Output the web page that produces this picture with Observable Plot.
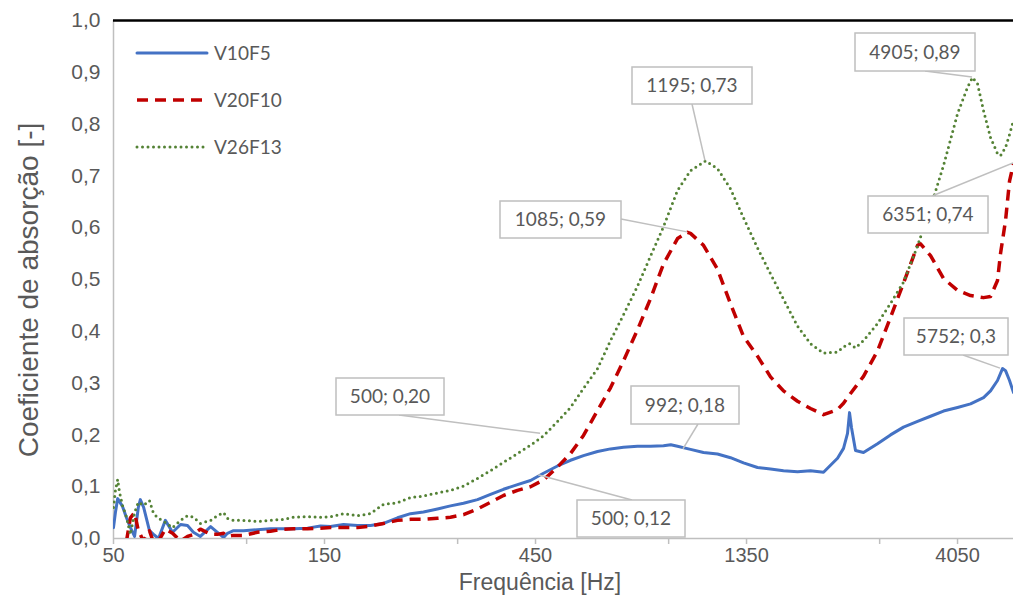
<!DOCTYPE html>
<html><head><meta charset="utf-8">
<script src="https://cdn.jsdelivr.net/npm/d3@7"></script>
<script src="https://cdn.jsdelivr.net/npm/@observablehq/plot@0.6"></script>
<style>
body{margin:0;background:#fff;}
#chart{position:relative;width:1013px;height:598px;overflow:hidden;}
</style></head><body><div id="chart"></div>
<script>
// ---- data (frequency in Hz, absorption coefficient) ----
const freqV10F5 = [50,50.5,51.1,52.4,53.5,54.6,55.8,56.9,57.5,58.5,60.3,61.6,63.2,65.5,68.0,70.9,73.5,75.8,78.6,82.9,85.9,88.7,90.5,93.4,98.4,105.8,113.2,121.2,127.6,137.3,146.9,
  154.8,165.6,178.1,190.6,203.9,219.4,234.7,251.1,270.1,289.0,309.3,332.7,356.0,380.9,409.7,438.4,469.1,504.6,539.9,577.7,621.5,664.9,711.4,765.3,818.8,876.2,910,942.5,1008.5,1079.1,1160.7,1242,1329,1429.5,1529.6,1636.7,1760.5,1883.8,2015.7,2168.2,2237,2284,2308,2332,2381,2482,2670,2857,3057,3289,3519,3765,4050,4334,4637,4809,4987,5119,5200,5309,5420];
const alphaV10F5 = [0.021,0.05,0.077,0.062,0.040,0.021,0.004,0.060,0.075,0.060,0.015,0.008,0.0,0.035,0.012,0.027,0.025,0.012,0.004,0.023,0.012,0.002,0.010,0.015,0.015,0.017,0.019,0.019,0.019,0.020,0.024,
  0.023,0.027,0.025,0.025,0.029,0.040,0.048,0.051,0.057,0.063,0.068,0.075,0.085,0.095,0.104,0.112,0.126,0.140,0.151,0.160,0.168,0.173,0.176,0.178,0.178,0.179,0.181,0.178,0.172,0.166,0.163,0.156,0.146,0.137,0.134,0.131,0.129,0.131,0.128,0.155,0.174,0.203,0.243,0.214,0.170,0.166,0.183,0.200,0.215,0.226,0.236,0.246,0.253,0.260,0.272,0.285,0.305,0.328,0.324,0.305,0.282];

const freqV20F10 = [50,53.5,54.6,55.8,56.9,58.5,60.3,61.6,63.2,65.5,68.0,70.9,73.5,75.8,78.6,82.9,85.9,88.7,90.5,93.4,98.4,105.8,113.2,121.2,127.6,137.3,146.9,
  154.8,165.6,178.1,190.6,203.9,219.4,234.7,251.1,270.1,289.0,309.3,332.7,356.0,380.9,409.7,438.4,469.1,504.6,539.9,577.7,621.5,664.9,711.4,765.3,818.8,876.2,942.5,993,1008.5,1079.1,1160.7,1242,1329,1429.5,1529.6,1636.7,1760.5,1883.8,2015.7,2168.2,2237,2320,2482,2670,2857,3057,3289,3340,3519,3765,4050,4334,4637,4809,4987,5066,5200,5309,5420];
const alphaV20F10 = [-0.03,-0.005,0.040,0.050,0.015,-0.005,0.015,-0.008,-0.005,0.018,0.010,-0.005,0.004,0.008,0.018,0.008,0.008,0.010,0.004,0.006,0.006,0.012,0.014,0.018,0.019,0.019,0.020,
  0.021,0.021,0.021,0.024,0.029,0.035,0.037,0.037,0.039,0.041,0.046,0.057,0.070,0.083,0.093,0.100,0.113,0.138,0.164,0.199,0.247,0.291,0.343,0.403,0.463,0.530,0.579,0.591,0.589,0.566,0.520,0.453,0.390,0.352,0.312,0.285,0.265,0.251,0.239,0.249,0.261,0.280,0.313,0.362,0.427,0.493,0.566,0.569,0.546,0.502,0.479,0.469,0.465,0.467,0.498,0.550,0.614,0.690,0.724];

const freqV26F13 = [50,50.5,51.1,51.6,52.4,53.5,54.6,55.8,56.9,58.5,60.3,61.6,63.2,65.5,68.0,70.9,73.5,75.8,78.6,82.9,85.9,88.7,90.5,93.4,98.4,105.8,113.2,121.2,127.6,137.3,146.9,
  154.8,165.6,178.1,190.6,203.9,219.4,234.7,251.1,270.1,289.0,309.3,332.7,356.0,380.9,409.7,438.4,469.1,504.6,539.9,577.7,621.5,664.9,711.4,765.3,818.8,876.2,942.5,1008.5,1090,1160.7,1242,1329,1429.5,1529.6,1636.7,1760.5,1883.8,2015.7,2168.2,2237,2308,2381,2482,2670,2857,3057,3289,3519,3765,4050,4266,4379,4494,4637,4809,4987,5066,5200,5309,5420];
const alphaV26F13 = [0.060,0.093,0.114,0.089,0.064,0.041,0.008,0.050,0.070,0.064,0.073,0.048,0.039,0.031,0.021,0.035,0.044,0.041,0.029,0.035,0.044,0.050,0.039,0.035,0.035,0.033,0.035,0.037,0.041,0.042,0.041,
  0.042,0.048,0.044,0.048,0.066,0.069,0.079,0.082,0.088,0.093,0.101,0.116,0.131,0.147,0.164,0.180,0.198,0.226,0.253,0.290,0.328,0.382,0.432,0.487,0.545,0.602,0.672,0.710,0.729,0.714,0.675,0.619,0.561,0.511,0.462,0.410,0.376,0.358,0.360,0.370,0.376,0.368,0.382,0.415,0.454,0.495,0.565,0.639,0.720,0.820,0.871,0.890,0.878,0.826,0.774,0.743,0.739,0.755,0.780,0.807];

const seriesNames = ["V10F5","V20F10","V26F13"];
const xTicks = [50,100,150,300,450,900,1350,2700,4050];
const xTickLabels = [50,150,450,1350,4050];
const yTicks = [0,0.1,0.2,0.3,0.4,0.5,0.6,0.7,0.8,0.9,1.0];

const annotText  = ["1195; 0,73","1085; 0,59","4905; 0,89","6351; 0,74","5752; 0,3","992; 0,18","500; 0,20","500; 0,12"];
const annotFreq  = [1090, 993, 4379, 5420, 5066, 972, 462, 457];
const annotAlpha = [0.729, 0.591, 0.890, 0.724, 0.328, 0.172, 0.202, 0.122];

// ---- styles ----
const styles = {
  V10F5:  {stroke:"#4472C4", strokeWidth:3,   strokeDasharray:null,  strokeLinecap:"round"},
  V20F10: {stroke:"#C00000", strokeWidth:3.5, strokeDasharray:"11 7", strokeLinecap:"butt"},
  V26F13: {stroke:"#548235", strokeWidth:3,   strokeDasharray:"0 5.5", strokeLinecap:"round"}
};
const boxes   = [[632,67,120,37],[500,201,121,37],[855,33,120,38],[868,196,120,37],[904,318,104,37],[631,386,108,38],[336,378,108,37],[577,500,108,37]];
const leaders = [[692,104],[621,219],[925,71],[932,196],[963,355],[698,424],[399,415],[632,500]];

const raw = {
  V10F5:  freqV10F5.map((f,i)=>({f, a:alphaV10F5[i]})),
  V20F10: freqV20F10.map((f,i)=>({f, a:alphaV20F10[i]})),
  V26F13: freqV26F13.map((f,i)=>({f, a:alphaV26F13[i]}))
};

const fmtY = d => d.toFixed(1).replace(".", ",");
const axisFont = "'Liberation Sans', Arial, sans-serif";

const plot = Plot.plot({
  width:1013, height:598,
  marginLeft:113, marginRight:0, marginTop:20, marginBottom:60,
  style:{fontFamily:axisFont, fontSize:"20px", color:"#595959", background:"white", overflow:"visible"},
  x:{type:"log", domain:[50,5420], ticks:xTicks, tickFormat:d => xTickLabels.includes(d) ? String(d) : "", tickSize:6, tickPadding:3, label:null},
  y:{domain:[0,1], ticks:yTicks, tickFormat:fmtY, tickSize:0, tickPadding:13, label:null},
  marks:[
    Plot.ruleY([0], {stroke:"#bfbfbf", strokeWidth:1.5}),
    Plot.ruleX([50], {stroke:"#bfbfbf", strokeWidth:1.5}),
    ...seriesNames.map(n => Plot.line(raw[n], {x:"f", y:"a", clip:true, ...Object.fromEntries(Object.entries(styles[n]).filter(([k,v])=>v!=null))})),
    Plot.ruleY([1], {stroke:"#000", strokeWidth:2.5})
  ]
});

document.getElementById("chart").appendChild(plot);
const svg = d3.select(plot);
svg.selectAll('[aria-label^="x-axis"] line, [aria-label^="x-axis"] path').attr("stroke","#bfbfbf").attr("stroke-width",1.5);
svg.selectAll('.tick line').attr("stroke","#bfbfbf");
svg.selectAll('[aria-label^="y-axis"] text').style("font-size","21px");

const xs = plot.scale("x"), ys = plot.scale("y");
const fontLabel = "Lato, 'Open Sans', sans-serif";

// axis titles
svg.append("text").attr("x",540).attr("y",590).attr("text-anchor","middle")
  .attr("fill","#595959").style("font-size","23px").style("font-family",axisFont)
  .text("Frequência [Hz]");
svg.append("text").attr("transform","translate(38,290) rotate(-90)").attr("text-anchor","middle")
  .attr("fill","#595959").style("font-size","28px").style("font-family",axisFont)
  .text("Coeficiente de absorção [-]");

// legend
const lg = svg.append("g");
seriesNames.forEach((n,i) => {
  const y = 53 + i*47;
  const s = styles[n];
  const ln = lg.append("line").attr("x1",137).attr("x2",207).attr("y1",y).attr("y2",y)
    .attr("stroke",s.stroke).attr("stroke-width",s.strokeWidth).attr("stroke-linecap",s.strokeLinecap);
  if (s.strokeDasharray) ln.attr("stroke-dasharray", s.strokeDasharray);
  lg.append("text").attr("x",214).attr("y",y).attr("dy","0.35em").attr("text-anchor","start").attr("fill","#595959")
    .style("font-size","19px").style("font-family",fontLabel).text(n);
});

// data labels
const ag = svg.append("g");
annotText.forEach((t,i) => {
  ag.append("line").attr("x1",leaders[i][0]).attr("y1",leaders[i][1])
    .attr("x2",xs.apply(annotFreq[i])).attr("y2",ys.apply(annotAlpha[i]))
    .attr("stroke","#bfbfbf").attr("stroke-width",1.5);
});
annotText.forEach((t,i) => {
  const [bx,by,bw,bh] = boxes[i];
  ag.append("rect").attr("x",bx).attr("y",by).attr("width",bw).attr("height",bh)
    .attr("fill","white").attr("stroke","#bfbfbf").attr("stroke-width",1.5);
  ag.append("text").attr("x",bx+bw/2).attr("y",by+bh/2).attr("dy","0.35em").attr("text-anchor","middle")
    .attr("fill","#595959").style("font-size","19px").style("font-family",fontLabel).text(t);
});
</script></body></html>
